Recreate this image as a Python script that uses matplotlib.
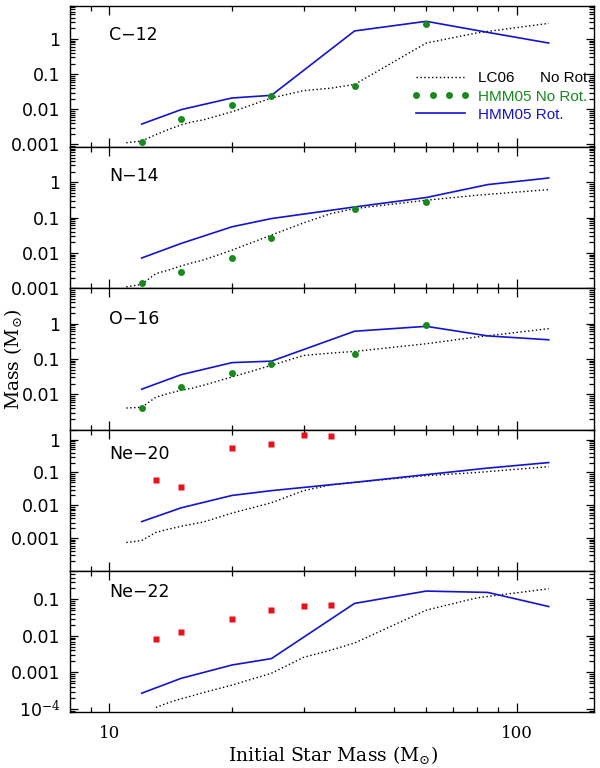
import numpy as np
import matplotlib
matplotlib.use('Agg')
import matplotlib.pyplot as plt
from matplotlib.lines import Line2D
from matplotlib.ticker import FixedLocator, LogLocator, NullFormatter

plt.rcParams['mathtext.fontset'] = 'dejavuserif'

# Initial masses of the models
m_lc06 = [11, 12, 13, 14, 15, 16, 17, 20, 25, 30, 35, 40, 60, 80, 120]
m_hmm_rot = [12, 15, 20, 25, 40, 60, 85, 120]
m_hmm_norot = [12, 15, 20, 25, 40, 60]
m_red = [13, 15, 20, 25, 30, 35]

# C-12
c12_lc06 = [0.00112, 0.00125, 0.0019, 0.0027, 0.0036, 0.0044, 0.0050, 0.0085,
            0.021, 0.034, 0.040, 0.051, 0.77, 1.5, 2.8]
c12_rot = [0.0038, 0.0098, 0.021, 0.025, 1.7, 3.2, 1.55, 0.77]
c12_norot = [0.00117, 0.0053, 0.0136, 0.0237, 0.045, 2.7]

# N-14
n14_lc06 = [0.0011, 0.0013, 0.0026, 0.0033, 0.0043, 0.0053, 0.0063, 0.012,
            0.032, 0.071, 0.13, 0.18, 0.31, 0.43, 0.62]
n14_rot = [0.0072, 0.0186, 0.055, 0.094, 0.2, 0.37, 0.86, 1.32]
n14_norot = [0.00144, 0.0029, 0.0071, 0.026, 0.17, 0.28]

# O-16
o16_lc06 = [0.0041, 0.0043, 0.0083, 0.0107, 0.013, 0.015, 0.018, 0.031,
            0.066, 0.126, 0.147, 0.164, 0.27, 0.42, 0.72]
o16_rot = [0.014, 0.036, 0.079, 0.087, 0.61, 0.84, 0.45, 0.35]
o16_norot = [0.0040, 0.016, 0.040, 0.074, 0.142, 0.92]

# Ne-20
ne20_lc06 = [0.00074, 0.00085, 0.0015, 0.0019, 0.0023, 0.0027, 0.0031, 0.0058,
             0.012, 0.028, 0.042, 0.050, 0.080, 0.10, 0.15]
ne20_rot = [0.0032, 0.0084, 0.020, 0.028, 0.050, 0.086, 0.136, 0.20]
ne20_red = [0.057, 0.036, 0.56, 0.74, 1.36, 1.32]

# Ne-22 (LC06 curve starts at 13 Msun)
ne22_lc06 = [0.00011, 0.00015, 0.00019, 0.00023, 0.00028, 0.00045,
             0.00095, 0.0026, 0.0041, 0.0064, 0.051, 0.111, 0.197]
ne22_rot = [0.00027, 0.00069, 0.0016, 0.0024, 0.078, 0.17, 0.156, 0.064]
ne22_red = [0.0085, 0.0129, 0.0294, 0.051, 0.066, 0.071]

names = ['C\u221212', 'N\u221214', 'O\u221216', 'Ne\u221220', 'Ne\u221222']
ylims = [(8.5e-4, 9), (1e-3, 10), (1e-3, 10), (1e-4, 2), (8e-5, 0.6)]
yticks = [[1e-3, 1e-2, 0.1, 1], [1e-3, 1e-2, 0.1, 1], [1e-2, 0.1, 1],
          [1e-3, 1e-2, 0.1, 1], [1e-4, 1e-3, 1e-2, 0.1]]
name_y = [0.79, 0.794, 0.785, 0.825, 0.85]

tick_lbl = {1e-4: '10$^{-4}$', 1e-3: '0.001', 1e-2: '0.01', 0.1: '0.1', 1: '1'}

blue = '#1414cc'
green = '#178a1c'
red = '#e8101a'

fig = plt.figure(figsize=(6, 7.68), dpi=100)
axes = fig.subplots(5, 1, sharex=True, gridspec_kw=dict(hspace=0))
fig.subplots_adjust(left=0.1167, right=0.99, top=0.9928, bottom=0.0723)

lc06_sets = [(m_lc06, c12_lc06), (m_lc06, n14_lc06), (m_lc06, o16_lc06),
             (m_lc06, ne20_lc06), (m_lc06[2:], ne22_lc06)]
rot_sets = [c12_rot, n14_rot, o16_rot, ne20_rot, ne22_rot]
norot_sets = [c12_norot, n14_norot, o16_norot, None, None]
red_sets = [None, None, None, ne20_red, ne22_red]

for i, ax in enumerate(axes):
    ax.set_xscale('log')
    ax.set_yscale('log')

    xm, ym = lc06_sets[i]
    ax.plot(xm, ym, color='k', lw=1.0, linestyle=(0, (1, 1.8)))
    ax.plot(m_hmm_rot, rot_sets[i], color=blue, lw=1.2)
    if norot_sets[i] is not None:
        ax.plot(m_hmm_norot, norot_sets[i], 'o', color=green, ms=5, mec='none')
    if red_sets[i] is not None:
        ax.plot(m_red, red_sets[i], 's', color=red, ms=4, mec='none')

    ax.set_xlim(8, 155)
    ax.set_ylim(*ylims[i])

    ax.xaxis.set_major_locator(FixedLocator([10, 100]))
    ax.xaxis.set_minor_locator(FixedLocator([9, 20, 30, 40, 50, 60, 70, 80, 90]))
    ax.xaxis.set_minor_formatter(NullFormatter())
    ax.set_yticks(yticks[i])
    ax.set_yticklabels([tick_lbl[v] for v in yticks[i]])
    ax.yaxis.set_minor_locator(LogLocator(base=10, subs=np.arange(2, 10), numticks=20))
    ax.yaxis.set_minor_formatter(NullFormatter())

    ax.tick_params(which='both', direction='in', top=True, right=True, width=0.9)
    ax.tick_params(axis='x', which='major', length=6.3)
    ax.tick_params(axis='x', which='minor', length=3.3)
    ax.tick_params(axis='y', which='major', length=6, pad=7, labelsize=12.5)
    ax.tick_params(axis='y', which='minor', length=3.6)
    for sp in ax.spines.values():
        sp.set_linewidth(1.0)

    ax.text(0.074, name_y[i], names[i], transform=ax.transAxes,
            fontsize=12.5, va='center', ha='left')

axes[-1].set_xticklabels(['10', '100'], family='DejaVu Serif', fontsize=12)
axes[-1].tick_params(axis='x', which='major', pad=9)
fig.text(333 / 600, 1 - 761 / 768, 'Initial Star Mass (M$_{\\odot}$)',
         family='DejaVu Serif', fontsize=13.5, ha='center', va='baseline')
fig.text(13 / 600, 1 - 359 / 768, 'Mass (M$_{\\odot}$)', family='DejaVu Serif',
         fontsize=13.5, rotation=90, ha='center', va='center')

# legend in the top panel
handles = [Line2D([], [], color='k', lw=1.0, linestyle=(0, (1, 1.8))),
           Line2D([], [], color=green, linestyle='none', marker='o', ms=5, mec='none'),
           Line2D([], [], color=blue, lw=1.2)]
labels = ['LC06      No Rot.', 'HMM05 No Rot.', 'HMM05 Rot.']
leg = axes[0].legend(handles, labels, loc='upper left', bbox_to_anchor=(0.652, 0.535),
                     frameon=False, numpoints=4, handlelength=3.8, handletextpad=0.55,
                     labelspacing=0.28, borderpad=0, borderaxespad=0,
                     prop=dict(family='Liberation Sans', size=11))
for txt, col in zip(leg.get_texts(), ['k', green, blue]):
    txt.set_color(col)

fig.savefig('out.png', dpi=100)
